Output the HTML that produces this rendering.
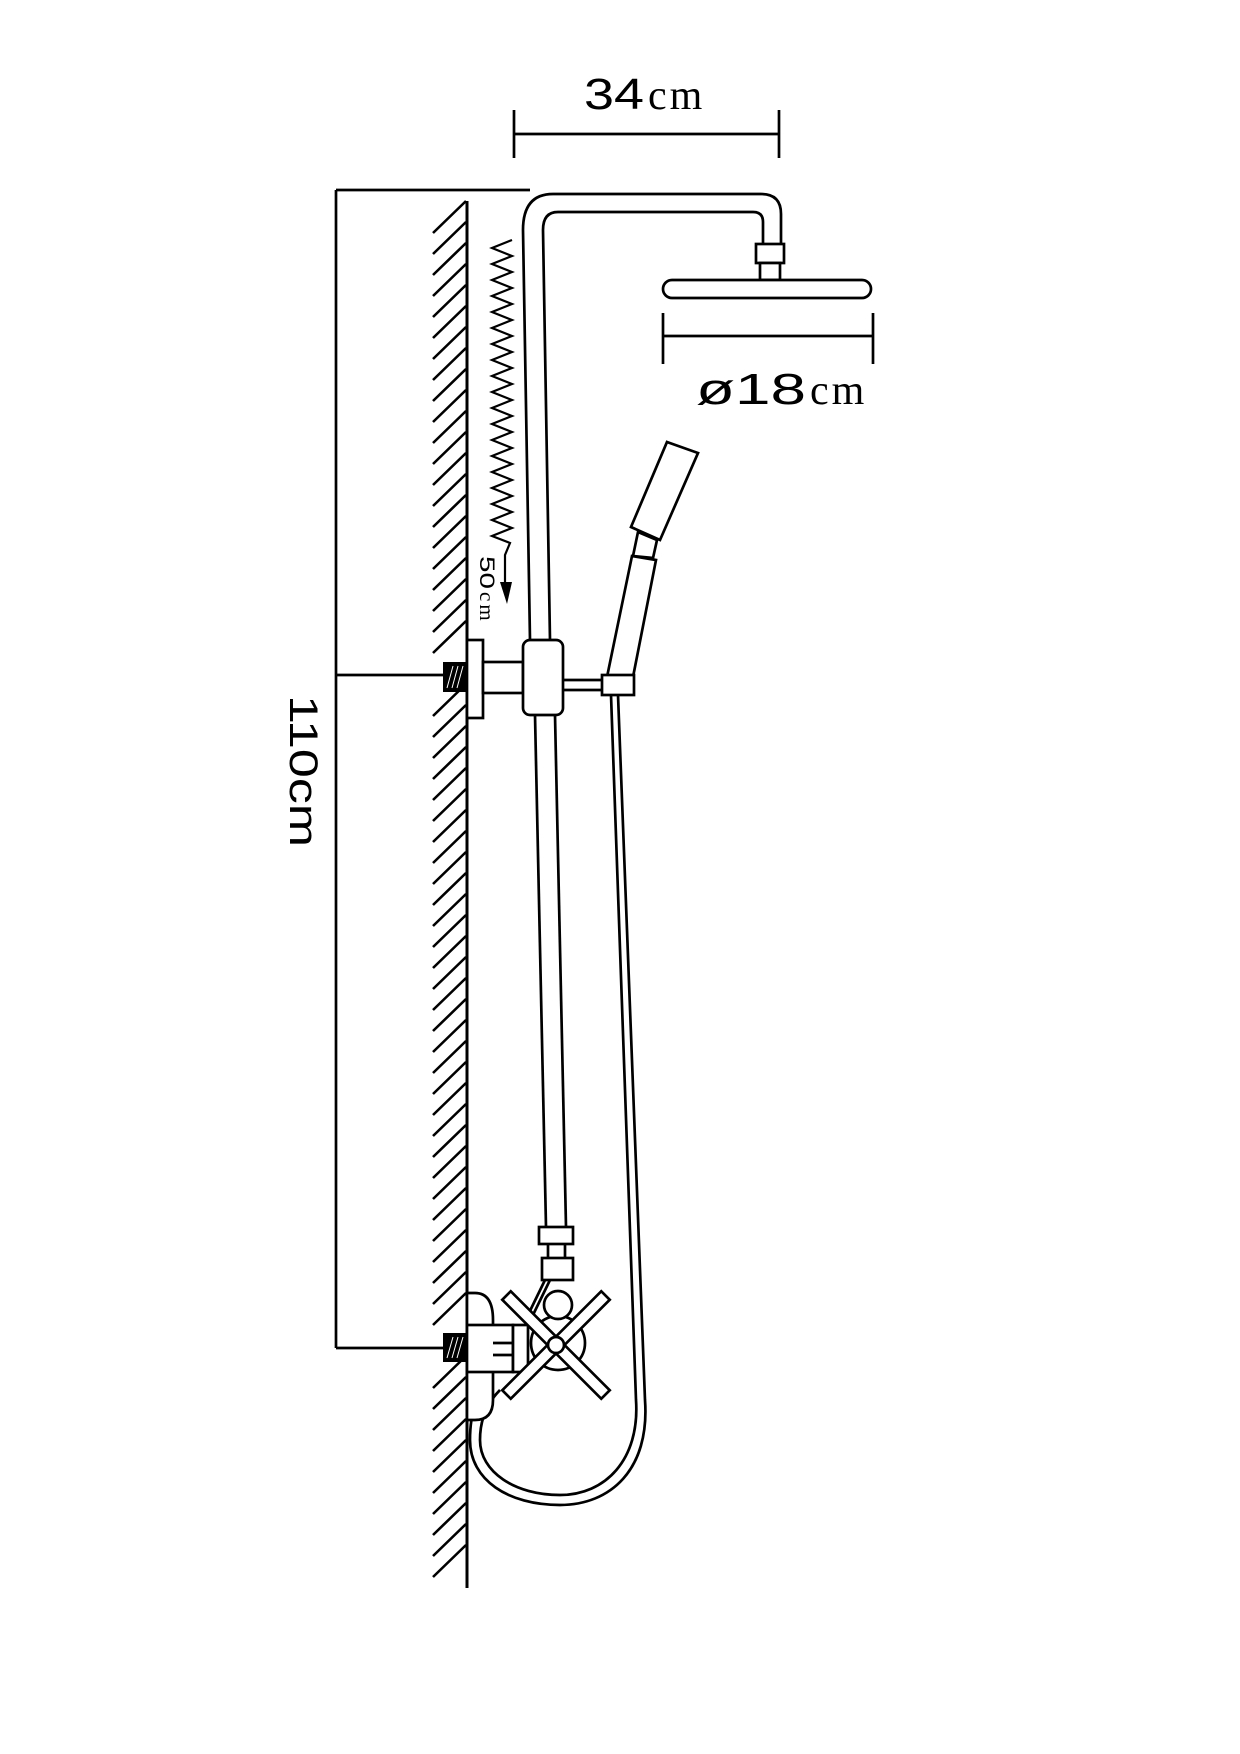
<!DOCTYPE html>
<html><head><meta charset="utf-8"><style>html,body{margin:0;padding:0;background:#fff}svg{display:block}</style></head>
<body>
<svg width="1240" height="1754" viewBox="0 0 1240 1754" xmlns="http://www.w3.org/2000/svg" fill="none" stroke="#000" stroke-width="2.7">
<!-- 34cm dimension -->
<line x1="514" y1="134" x2="779" y2="134"/>
<line x1="514" y1="110" x2="514" y2="158"/>
<line x1="779" y1="110" x2="779" y2="158"/>
<text x="584" y="109" font-family="Liberation Sans, sans-serif" font-size="44" fill="#000" stroke="none" textLength="60" lengthAdjust="spacingAndGlyphs">34</text>
<text x="648" y="109" font-family="Liberation Serif, serif" font-size="42" fill="#000" stroke="none" letter-spacing="3">cm</text>
<!-- 110cm dimension -->
<line x1="336" y1="190" x2="530" y2="190"/>
<line x1="336" y1="190" x2="336" y2="1348"/>
<line x1="336" y1="675" x2="443" y2="675"/>
<line x1="336" y1="1348" x2="443" y2="1348"/>
<text transform="translate(290,695) rotate(90)" x="0" y="0" font-family="Liberation Sans, sans-serif" font-size="40" fill="#000" stroke="none" textLength="152" lengthAdjust="spacingAndGlyphs">110cm</text>
<!-- wall -->
<line x1="467" y1="201" x2="467" y2="1588" stroke-width="3"/>
<g stroke-width="2.6">
<path d="M433 233 L466 201 M433 254 L466 222 M433 275 L466 243 M433 296 L466 264 M433 317 L466 285 M433 338 L466 306 M433 359 L466 327 M433 380 L466 348 M433 401 L466 369 M433 422 L466 390 M433 443 L466 411 M433 464 L466 432 M433 485 L466 453 M433 506 L466 474 M433 527 L466 495 M433 548 L466 516 M433 569 L466 537 M433 590 L466 558 M433 611 L466 579 M433 632 L466 600 M433 653 L466 621 M433 716 L466 684 M433 737 L466 705 M433 758 L466 726 M433 779 L466 747 M433 800 L466 768 M433 821 L466 789 M433 842 L466 810 M433 863 L466 831 M433 884 L466 852 M433 905 L466 873 M433 926 L466 894 M433 947 L466 915 M433 968 L466 936 M433 989 L466 957 M433 1010 L466 978 M433 1031 L466 999 M433 1052 L466 1020 M433 1073 L466 1041 M433 1094 L466 1062 M433 1115 L466 1083 M433 1136 L466 1104 M433 1157 L466 1125 M433 1178 L466 1146 M433 1199 L466 1167 M433 1220 L466 1188 M433 1241 L466 1209 M433 1262 L466 1230 M433 1283 L466 1251 M433 1304 L466 1272 M433 1325 L466 1293 M433 1388 L466 1356 M433 1409 L466 1377 M433 1430 L466 1398 M433 1451 L466 1419 M433 1472 L466 1440 M433 1493 L466 1461 M433 1514 L466 1482 M433 1535 L466 1503 M433 1556 L466 1524 M433 1577 L466 1545"/>
</g>
<!-- top pipe -->
<path d="M530 640 L523 230 Q523 194 553 194 L761 194 Q781 194 781 214 L781 244"/>
<path d="M550 640 L543 230 Q543 212 558 212 L753 212 Q763 212 763 222 L763 244"/>
<line x1="535" y1="715" x2="546" y2="1227"/>
<line x1="555" y1="715" x2="566" y2="1227"/>
<!-- head connection -->
<rect x="756" y="244" width="28" height="19" fill="#fff"/>
<rect x="760" y="263" width="20" height="17" fill="#fff"/>
<rect x="663" y="280" width="208" height="18" rx="9" fill="#fff"/>
<!-- ø18cm dimension -->
<line x1="663" y1="336" x2="873" y2="336"/>
<line x1="663" y1="313" x2="663" y2="364"/>
<line x1="873" y1="313" x2="873" y2="364"/>
<text x="696" y="404" font-family="Liberation Sans, sans-serif" font-size="44" fill="#000" stroke="none" textLength="110" lengthAdjust="spacingAndGlyphs">ø18</text>
<text x="810" y="404" font-family="Liberation Serif, serif" font-size="42" fill="#000" stroke="none" letter-spacing="3">cm</text>
<!-- spring -->
<polyline stroke-width="2.2" points="512,240 492,248 512,256 492,264 512,272 492,280 512,288 492,296 512,304 492,312 512,320 492,328 512,336 492,344 512,352 492,360 512,368 492,376 512,384 492,392 512,400 492,408 512,416 492,424 512,432 492,440 512,448 492,456 512,464 492,472 512,480 492,488 512,496 492,504 512,512 492,520 512,528 492,536 510,543 505,555 505,585"/>
<polygon points="500,582 512,582 507,604" fill="#000" stroke="none"/>
<text transform="translate(480,556) rotate(90)" font-family="Liberation Sans, sans-serif" font-size="21" fill="#000" stroke="none" textLength="33" lengthAdjust="spacingAndGlyphs">50</text>
<text transform="translate(480,592) rotate(90)" font-family="Liberation Serif, serif" font-size="21" fill="#000" stroke="none" letter-spacing="3">cm</text>
<!-- upper bracket -->
<rect x="443" y="662" width="24" height="30" fill="#000" stroke="none"/>
<path d="M447 688 L453 666 M452 688 L458 666 M457 688 L463 666" stroke="#fff" stroke-width="1"/>
<rect x="467" y="640" width="16" height="78" fill="#fff"/>
<rect x="483" y="662" width="40" height="31" fill="#fff"/>
<rect x="523" y="640" width="40" height="75" rx="7" fill="#fff"/>
<line x1="563" y1="680" x2="602" y2="680"/>
<line x1="563" y1="690" x2="602" y2="690"/>
<!-- hand shower -->
<polygon points="607,677 633,677 656,560 632,556" fill="#fff"/>
<polygon points="638,532 633,556 653,558 657,540" fill="#fff"/>
<polygon points="667,442 698,453 660,540 631,527" fill="#fff"/>
<rect x="602" y="675" width="32" height="20" fill="#fff"/>
<!-- hose -->
<path d="M611 695 L636 1400 C640 1460 605 1495 560 1495 C515 1495 480 1472 480 1440 C480 1415 490 1400 500 1390"/>
<path d="M618 695 L645 1400 C650 1470 610 1505 560 1505 C508 1505 470 1480 470 1440 C470 1410 478 1392 492 1378"/>
<!-- valve nuts -->
<rect x="539" y="1227" width="34" height="17" fill="#fff"/>
<line x1="548" y1="1244" x2="548" y2="1258"/>
<line x1="565" y1="1244" x2="565" y2="1258"/>
<rect x="542" y="1258" width="31" height="22" fill="#fff"/>
<line x1="545" y1="1280" x2="527" y2="1317"/>
<line x1="550" y1="1280" x2="532" y2="1317"/>
<!-- lower bracket -->
<rect x="443" y="1333" width="24" height="29" fill="#000" stroke="none"/>
<path d="M447 1358 L453 1337 M452 1358 L458 1337 M457 1358 L463 1337" stroke="#fff" stroke-width="1"/>
<path d="M467 1293 L475 1293 Q493 1293 493 1320 L493 1400 Q493 1420 475 1420 L467 1420 Z" fill="#fff"/>
<rect x="467" y="1325" width="46" height="47" fill="#fff"/>
<line x1="493" y1="1343" x2="513" y2="1343"/>
<line x1="493" y1="1355" x2="513" y2="1355"/>
<rect x="513" y="1325" width="15" height="47" fill="#fff"/>
<circle cx="558" cy="1343" r="27" fill="#fff"/>
<circle cx="558" cy="1305" r="14" fill="#fff"/>
<g transform="translate(556,1345)">
<rect x="-70" y="-6" width="140" height="12" transform="rotate(45)" fill="#fff"/>
<rect x="-70" y="-6" width="140" height="12" transform="rotate(-45)" fill="#fff"/>
<circle cx="0" cy="0" r="8" fill="#fff"/>
</g>
</svg>
</body></html>
